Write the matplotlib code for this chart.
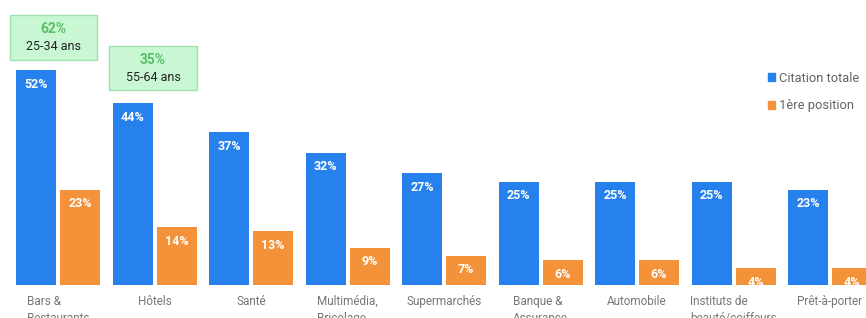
import matplotlib
matplotlib.use("Agg")
import numpy as np
import matplotlib.pyplot as plt
from matplotlib.patches import Patch, Rectangle

plt.rcParams["font.family"] = ["Roboto", "DejaVu Sans"]

# data
categories = ["Bars &\nRestaurants", "Hôtels", "Santé", "Multimédia,\nBricolage",
              "Supermarchés", "Banque &\nAssurance", "Automobile",
              "Instituts de\nbeauté/coiffeurs", "Prêt-à-porter"]
citation_totale = [52, 44, 37, 32, 27, 25, 25, 25, 23]
premiere_position = [23, 14, 13, 9, 7, 6, 6, 4, 4]
series_names = ["Citation totale", "1ère position"]
highlights = [("62%", "25-34 ans"), ("35%", "55-64 ans")]

blue = "#2781ed"
orange = "#f39238"
W, H = 866, 318

fig = plt.figure(figsize=(W / 100, H / 100), dpi=100)
ax = fig.add_axes([0, 33 / H, 1, 285 / H])

x = np.arange(len(categories))
bw = 40 / 96.5
off = 22 / 96.5
b1 = ax.bar(x - off, citation_totale, bw, color=blue)
b2 = ax.bar(x + off, premiere_position, bw, color=orange)

for bars, vals in ((b1, citation_totale), (b2, premiere_position)):
    for r, v in zip(bars, vals):
        ax.annotate(f"{v}%", (r.get_x() + r.get_width() / 2, r.get_height()),
                    xytext=(0, -10), textcoords="offset points",
                    ha="center", va="center", color="white",
                    fontsize=9, fontweight="bold")

ax.set_xlim(-58 / 96.5, 808 / 96.5)
ax.set_ylim(0, 69)
ax.axis("off")

# category labels under the groups
for i, c in enumerate(categories):
    ax.annotate(c, (i, 0), xytext=(0, -7), textcoords="offset points",
                ha="center", va="top", multialignment="left",
                fontsize=8.5, color="#777777", linespacing=1.45,
                annotation_clip=False)

# legend
handles = [Patch(color=blue), Patch(color=orange)]
fig.legend(handles, series_names, loc="upper left",
           bbox_to_anchor=(756 / W, 1 - 60 / H), frameon=False,
           handlelength=0.6, handleheight=0.6, handletextpad=0.3,
           labelspacing=1.15, fontsize=9.3, labelcolor="#5f6368")

# green call-out boxes
boxes = [(10, 15, 87, 45), (109, 46, 88, 44)]
for (bx, by, bwid, bh), (pct, age) in zip(boxes, highlights):
    fig.patches.append(Rectangle((bx / W, 1 - (by + bh) / H), bwid / W, bh / H,
                                 transform=fig.transFigure, facecolor="#c9f7d3",
                                 edgecolor="#9fe0ae", linewidth=1))
    cx = (bx + bwid / 2) / W
    fig.text(cx, 1 - (by + 14) / H, pct, ha="center", va="center",
             color="#58bf68", fontsize=10, fontweight="bold")
    fig.text(cx, 1 - (by + 32) / H, age, ha="center", va="center",
             color="#222222", fontsize=9)

fig.savefig("out.png", dpi=100)
